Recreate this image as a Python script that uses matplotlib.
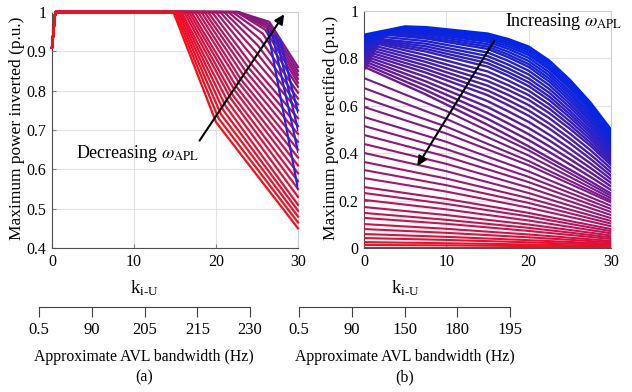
import numpy as np
import matplotlib
matplotlib.use('Agg')
import matplotlib.pyplot as plt

plt.rcParams['font.family'] = ['Liberation Serif', 'DejaVu Serif']
plt.rcParams['mathtext.fontset'] = 'stix'

# ---- panel (a): maximum power inverted ----
left_start_p = 0.91      # value at k = 0
left_rise_k = 0.4        # k where curves reach 1.0
left_break = [14.8, 15.0, 15.2, 15.4, 15.6, 15.8, 16.1, 16.4, 16.7, 17.0, 17.4, 17.8, 18.2,
              18.6, 19.0, 19.5, 20.0, 20.5, 21.0, 21.5, 22.0, 22.5, 22.7, 22.7, 22.7, 22.7]
left_knee_k = [20.0, 20.3, 20.6, 20.9, 21.2, 21.5, 21.8, 22.0, 22.3, 22.5, 22.8, 23.0, 23.3,
               23.6, 23.9, 24.2, 24.5, 24.8, 25.1, 25.4, 25.7, 26.0, 26.2, 26.3, 26.4, 26.5]
left_knee_p = [0.72, 0.73, 0.74, 0.75, 0.76, 0.77, 0.78, 0.79, 0.80, 0.81, 0.82, 0.83, 0.84,
               0.85, 0.86, 0.87, 0.885, 0.90, 0.915, 0.93, 0.945, 0.955, 0.96, 0.965, 0.97, 0.975]
left_end = [0.45, 0.465, 0.48, 0.495, 0.51, 0.53, 0.55, 0.57, 0.59, 0.61, 0.63, 0.65, 0.67,
            0.69, 0.71, 0.73, 0.75, 0.765, 0.78, 0.795, 0.81, 0.82, 0.83, 0.84, 0.85, 0.86]

# steep blue curves at high gain
blue_knee_k = [26.3, 26.8, 27.3, 27.8]
blue_knee_p = [0.955, 0.95, 0.94, 0.93]
blue_end = [0.55, 0.645, 0.70, 0.745]

# ---- panel (b): maximum power rectified ----
# lower family: values at k = 0, 10, 20, 30
low_k = [0, 10, 20, 30]
low_v0 = [0.0, 0.013, 0.025, 0.042, 0.059, 0.08, 0.101, 0.127, 0.148, 0.173, 0.203, 0.232, 0.257,
          0.295, 0.329, 0.363, 0.401, 0.439, 0.477, 0.515, 0.553, 0.595, 0.633, 0.675, 0.717]
low_v10 = [0.0, 0.011, 0.020, 0.034, 0.047, 0.064, 0.081, 0.102, 0.119, 0.139, 0.163, 0.186, 0.207,
           0.238, 0.265, 0.293, 0.324, 0.355, 0.386, 0.417, 0.448, 0.483, 0.512, 0.545, 0.578]
low_v20 = [0.0, 0.008, 0.015, 0.024, 0.033, 0.045, 0.057, 0.072, 0.085, 0.099, 0.116, 0.133, 0.148,
           0.170, 0.190, 0.210, 0.232, 0.255, 0.278, 0.300, 0.323, 0.349, 0.367, 0.390, 0.412]
low_v30 = [0.0, 0.004, 0.008, 0.013, 0.018, 0.024, 0.03, 0.038, 0.045, 0.053, 0.062, 0.071, 0.08,
           0.092, 0.103, 0.114, 0.126, 0.139, 0.152, 0.165, 0.178, 0.192, 0.2, 0.21, 0.22]

# upper family: value at k=0, hump (k, value), then values at up_k
up_k = [7.5, 15, 17.5, 20, 22.5, 25, 27.5, 30]
up_v0 = [0.755, 0.761, 0.767, 0.773, 0.779, 0.785, 0.791, 0.797, 0.803, 0.809, 0.815, 0.821, 0.827,
         0.833, 0.839, 0.845, 0.851, 0.857, 0.863, 0.869, 0.875, 0.881, 0.887, 0.893, 0.90]
up_hump_k = [0.3, 0.45, 0.6, 0.75, 0.9, 1.05, 1.2, 1.35, 1.5, 1.65, 1.8, 1.95, 2.1,
             2.25, 2.4, 2.55, 2.7, 3.0, 3.3, 3.6, 3.9, 4.2, 4.5, 4.8, 5.0]
up_hump_v = [0.76, 0.77, 0.78, 0.79, 0.80, 0.81, 0.82, 0.83, 0.84, 0.85, 0.86, 0.865, 0.87,
             0.875, 0.88, 0.89, 0.90, 0.905, 0.91, 0.915, 0.92, 0.925, 0.93, 0.932, 0.935]
up_v7 = [0.648, 0.666, 0.685, 0.703, 0.722, 0.740, 0.755, 0.770, 0.785, 0.799, 0.814, 0.829, 0.840,
         0.851, 0.862, 0.873, 0.884, 0.891, 0.899, 0.906, 0.912, 0.918, 0.923, 0.928, 0.932]
up_v15 = [0.52, 0.545, 0.57, 0.595, 0.62, 0.645, 0.665, 0.685, 0.705, 0.725, 0.745, 0.765, 0.78,
          0.795, 0.81, 0.825, 0.84, 0.85, 0.86, 0.87, 0.878, 0.886, 0.893, 0.90, 0.905]
up_v17 = [0.475, 0.500, 0.526, 0.551, 0.577, 0.603, 0.624, 0.646, 0.667, 0.687, 0.707, 0.727, 0.742,
          0.758, 0.774, 0.790, 0.805, 0.816, 0.828, 0.840, 0.850, 0.859, 0.867, 0.875, 0.882]
up_v20 = [0.429, 0.455, 0.480, 0.506, 0.532, 0.558, 0.580, 0.603, 0.625, 0.645, 0.664, 0.683, 0.699,
          0.715, 0.732, 0.748, 0.764, 0.776, 0.789, 0.802, 0.814, 0.824, 0.834, 0.842, 0.85]
up_v22 = [0.380, 0.405, 0.429, 0.454, 0.478, 0.504, 0.525, 0.548, 0.569, 0.588, 0.606, 0.624, 0.639,
          0.655, 0.671, 0.687, 0.702, 0.715, 0.728, 0.741, 0.754, 0.764, 0.774, 0.783, 0.791]
up_v25 = [0.331, 0.353, 0.375, 0.397, 0.419, 0.442, 0.462, 0.483, 0.503, 0.519, 0.535, 0.551, 0.565,
          0.579, 0.594, 0.608, 0.622, 0.635, 0.648, 0.660, 0.673, 0.683, 0.693, 0.702, 0.71]
up_v27 = [0.281, 0.300, 0.319, 0.338, 0.357, 0.376, 0.394, 0.413, 0.431, 0.444, 0.458, 0.471, 0.484,
          0.496, 0.509, 0.521, 0.534, 0.545, 0.557, 0.568, 0.580, 0.589, 0.598, 0.606, 0.614]
up_v30 = [0.23, 0.245, 0.26, 0.275, 0.29, 0.305, 0.32, 0.335, 0.35, 0.36, 0.37, 0.38, 0.39,
          0.40, 0.41, 0.42, 0.43, 0.44, 0.45, 0.46, 0.47, 0.478, 0.486, 0.493, 0.5]

bw_ticks_a = ['0.5', '90', '205', '215', '230']
bw_ticks_b = ['0.5', '90', '150', '180', '195']


def mix(t):
    # red -> purple -> blue
    return ((1 - t) ** 1.2 * 0.98, 0.05 + 0.1 * t, 0.08 + 0.84 * t ** 0.75)


fig = plt.figure(figsize=(6.32, 3.92), dpi=100)
W, H = 632.0, 392.0


def px_axes(x0, y0, x1, y1):
    return fig.add_axes([x0 / W, 1 - y1 / H, (x1 - x0) / W, (y1 - y0) / H])


def style_main(ax):
    ax.grid(True, color='#e2e2e2', lw=0.8)
    ax.set_axisbelow(True)
    for s in ['top', 'right']:
        ax.spines[s].set_color('#cfcfcf')
    for s in ['left', 'bottom']:
        ax.spines[s].set_color('#505050')
    ax.tick_params(direction='in', length=3, color='#808080', labelsize=11.5, pad=4)
    ax.set_xlim(0, 30)
    ax.set_xticks([0, 10, 20, 30])


ax1 = px_axes(52, 12, 298, 248)
style_main(ax1)
ax1.set_ylim(0.4, 1.0)
ax1.set_yticks([0.4, 0.5, 0.6, 0.7, 0.8, 0.9, 1.0])
ax1.set_yticklabels(['0.4', '0.5', '0.6', '0.7', '0.8', '0.9', '1'])

n_left = len(left_end)
for i in reversed(range(n_left)):
    k = [0, left_rise_k, left_break[i], left_knee_k[i], 30]
    p = [left_start_p, 1, 1, left_knee_p[i], left_end[i]]
    ax1.plot(k, p, color=mix(0.42 * i / (n_left - 1)), lw=1.6, zorder=2.6, clip_on=False)

for i in range(len(blue_end)):
    ax1.plot([blue_knee_k[i], 30], [blue_knee_p[i], blue_end[i]], color='#2424e0', lw=1.6,
             zorder=2.8)

ax1.annotate('', xy=(28.5, 1.0), xytext=(17.8, 0.667),
             arrowprops=dict(arrowstyle='-|>', color='k', lw=1.5, mutation_scale=14), zorder=5)
ax1.text(2.9, 0.64, r'Decreasing $\omega_{\rm APL}$', fontsize=13, va='center', zorder=5)

ax2 = px_axes(364, 11, 611, 248)
style_main(ax2)
ax2.set_ylim(0, 1.0)
ax2.set_yticks([0, 0.2, 0.4, 0.6, 0.8, 1.0])
ax2.set_yticklabels(['0', '0.2', '0.4', '0.6', '0.8', '1'])

n_low = len(low_v0)
n_up = len(up_v0)
n_all = n_low + n_up
for i in range(n_low):
    ax2.plot(low_k, [low_v0[i], low_v10[i], low_v20[i], low_v30[i]],
             color=mix(i / (n_all - 1)), lw=1.5, zorder=3)
for j in range(n_up):
    k = [0, up_hump_k[j]] + up_k
    v = [up_v0[j], up_hump_v[j], up_v7[j], up_v15[j], up_v17[j], up_v20[j], up_v22[j],
         up_v25[j], up_v27[j], up_v30[j]]
    ax2.plot(k, v, color=mix((n_low + j) / (n_all - 1)), lw=1.7, zorder=3)

ax2.annotate('', xy=(6.3, 0.336), xytext=(16.0, 0.885),
             arrowprops=dict(arrowstyle='-|>', color='k', lw=1.5, mutation_scale=14), zorder=5)
ax2.text(17.1, 0.955, r'Increasing $\omega_{\rm APL}$', fontsize=13, va='center', zorder=5,
         clip_on=False)

# y labels
fig.text(17 / W, 1 - 128 / H, 'Maximum power inverted (p.u.)', rotation=90, fontsize=12.5,
         ha='center', va='center')
fig.text(331 / W, 1 - 128 / H, 'Maximum power rectified (p.u.)', rotation=90, fontsize=12.5,
         ha='center', va='center')


def bandwidth_axis(x0, x1, labels, cx, letter):
    axs = fig.add_axes([x0 / W, 1 - 307 / H, (x1 - x0) / W, 0.001])
    axs.set_xlim(0, len(labels) - 1)
    axs.set_xticks(range(len(labels)))
    axs.set_xticklabels(labels)
    axs.set_yticks([])
    axs.patch.set_visible(False)
    for s in ['top', 'left', 'right']:
        axs.spines[s].set_visible(False)
    axs.spines['bottom'].set_color('#404040')
    axs.tick_params(axis='x', direction='out', length=7, color='#404040', labelsize=12, pad=4)
    fig.text(cx / W, 1 - 288 / H, r'k$_{\mathregular{i}\text{-}\mathregular{U}}$', fontsize=13.5,
             ha='center', va='center')
    fig.text(cx / W, 1 - 357 / H, 'Approximate AVL bandwidth (Hz)', fontsize=11.3,
             ha='center', va='center')
    fig.text(cx / W, 1 - 377 / H, letter, fontsize=11.5, ha='center', va='center')


bandwidth_axis(39, 250, bw_ticks_a, 144, '(a)')
bandwidth_axis(299, 510, bw_ticks_b, 405, '(b)')

fig.savefig('out.png', dpi=100)
